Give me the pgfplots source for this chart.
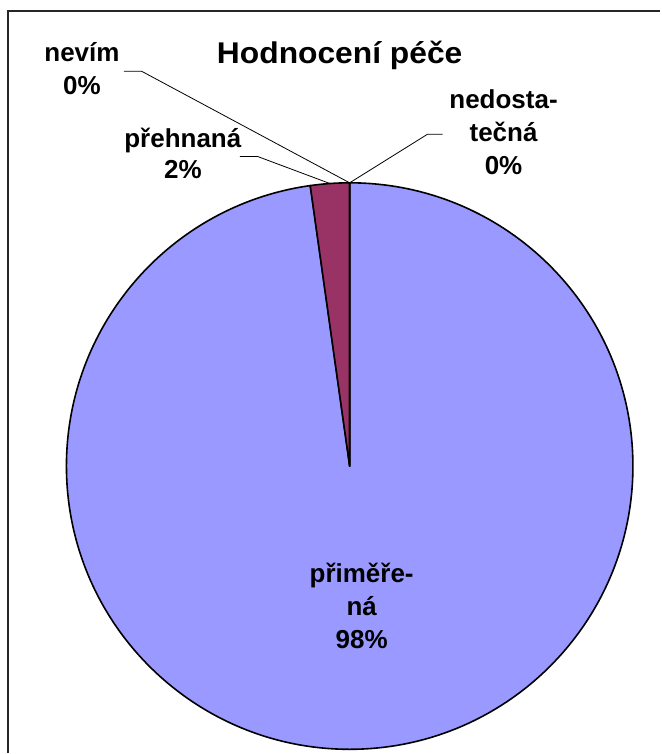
\documentclass[border=0pt]{standalone}
\usepackage{fontspec}
\setmainfont{Liberation Sans}
\newfontfamily\titlefont{Liberation Sans}[FakeStretch=1.06]
\usepackage{pgfplots}
\usepackage{pgfplotstable}
\usetikzlibrary{calc}
\pgfplotsset{compat=1.18}

\definecolor{pieblue}{HTML}{9999FF}
\definecolor{piemaroon}{HTML}{993366}
\definecolor{pieyellow}{HTML}{FFFFCC}
\definecolor{piecyan}{HTML}{CCFFFF}

% answers to "Hodnocení péče" (number of respondents)
\pgfplotstableread{
category share
primerena 88
prehnana 2
nedostatecna 0
nevim 0
}\piedata

\pgfplotstablegetelem{0}{share}\of\piedata \let\sA\pgfplotsretval
\pgfplotstablegetelem{1}{share}\of\piedata \let\sB\pgfplotsretval
\pgfplotstablegetelem{2}{share}\of\piedata \let\sC\pgfplotsretval
\pgfplotstablegetelem{3}{share}\of\piedata \let\sD\pgfplotsretval
\pgfmathsetmacro\total{\sA+\sB+\sC+\sD}
% fractions of the whole
\pgfmathsetmacro\fA{\sA/\total}
\pgfmathsetmacro\fB{\sB/\total}
\pgfmathsetmacro\fC{\sC/\total}
\pgfmathsetmacro\fD{\sD/\total}

% slice boundaries, clockwise from 12 o'clock
\pgfmathsetmacro\aA{90}
\pgfmathsetmacro\aB{\aA-360*\fA}
\pgfmathsetmacro\aC{\aB-360*\fB}
\pgfmathsetmacro\aD{\aC-360*\fC}
\pgfmathsetmacro\aE{\aD-360*\fD}
% slice middles, where leader lines meet the rim
\pgfmathsetmacro\mB{(\aB+\aC)/2}
\pgfmathsetmacro\mC{(\aC+\aD)/2}
\pgfmathsetmacro\mD{(\aD+\aE)/2}
% shares in percent
\pgfmathsetmacro\pA{100*\fA}
\pgfmathsetmacro\pB{100*\fB}
\pgfmathsetmacro\pC{100*\fC}
\pgfmathsetmacro\pD{100*\fD}

\newcommand\pct[1]{\pgfmathprintnumber[fixed,precision=0,assume math mode=true]{#1}\%}
\def\cx{350}
\def\cy{287.5}
\def\rr{283.5pt}

\begin{document}
\begin{tikzpicture}[
  lbl/.style={anchor=base, inner sep=0pt, font=\fontsize{26}{28}\selectfont\bfseries},
]
\begin{axis}[
  scale only axis, width=661pt, height=754pt,
  xmin=0, xmax=661, ymin=0, ymax=754,
  hide axis, clip=false,
]
\path (axis cs:0,0) rectangle (axis cs:661,754);
% chart area frame
\draw[line width=1.4pt, black!85] (axis cs:8,0) -- (axis cs:8,743) -- (axis cs:661,743);

% slices
\filldraw[fill=pieblue, draw=black, line width=1.6pt, line join=round]
  (axis cs:\cx,\cy) -- ++(\aA:\rr) arc[start angle=\aA, end angle=\aB, radius=\rr] -- cycle;
\filldraw[fill=piemaroon, draw=black, line width=1.6pt, line join=round]
  (axis cs:\cx,\cy) -- ++(\aB:\rr) arc[start angle=\aB, end angle=\aC, radius=\rr] -- cycle;
\filldraw[fill=pieyellow, draw=black, line width=1.6pt, line join=round]
  (axis cs:\cx,\cy) -- ++(\aC:\rr) arc[start angle=\aC, end angle=\aD, radius=\rr] -- cycle;
\filldraw[fill=piecyan, draw=black, line width=1.6pt, line join=round]
  (axis cs:\cx,\cy) -- ++(\aD:\rr) arc[start angle=\aD, end angle=\aE, radius=\rr] -- cycle;

% leader lines
\draw[line width=0.8pt] (axis cs:240,597.3) -- (axis cs:258,597.3) -- ($(axis cs:\cx,\cy)+(\mB:\rr)$);
\draw[line width=0.8pt] (axis cs:443,619.7) -- (axis cs:428,619.7) -- ($(axis cs:\cx,\cy)+(\mC:\rr)$);
\draw[line width=0.8pt] (axis cs:124,682.7) -- (axis cs:141.7,682.7) -- ($(axis cs:\cx,\cy)+(\mD:\rr)$);

% title
\node[anchor=base, inner sep=0pt, font=\fontsize{30}{34}\selectfont\titlefont\bfseries]
  at (axis cs:340,690.7) {Hodnocení péče};

% data labels
\node[lbl] at (axis cs:362,171) {přiměře-};
\node[lbl] at (axis cs:362,138) {ná};
\node[lbl] at (axis cs:362,105) {\pct{\pA}};

\node[lbl] at (axis cs:183,606) {přehnaná};
\node[lbl] at (axis cs:183,575) {\pct{\pB}};

\node[lbl] at (axis cs:504,645) {nedosta-};
\node[lbl] at (axis cs:504,612.3) {tečná};
\node[lbl] at (axis cs:504,579) {\pct{\pC}};

\node[lbl] at (axis cs:82,692.3) {nevím};
\node[lbl] at (axis cs:82,659) {\pct{\pD}};
\end{axis}
\end{tikzpicture}
\end{document}
